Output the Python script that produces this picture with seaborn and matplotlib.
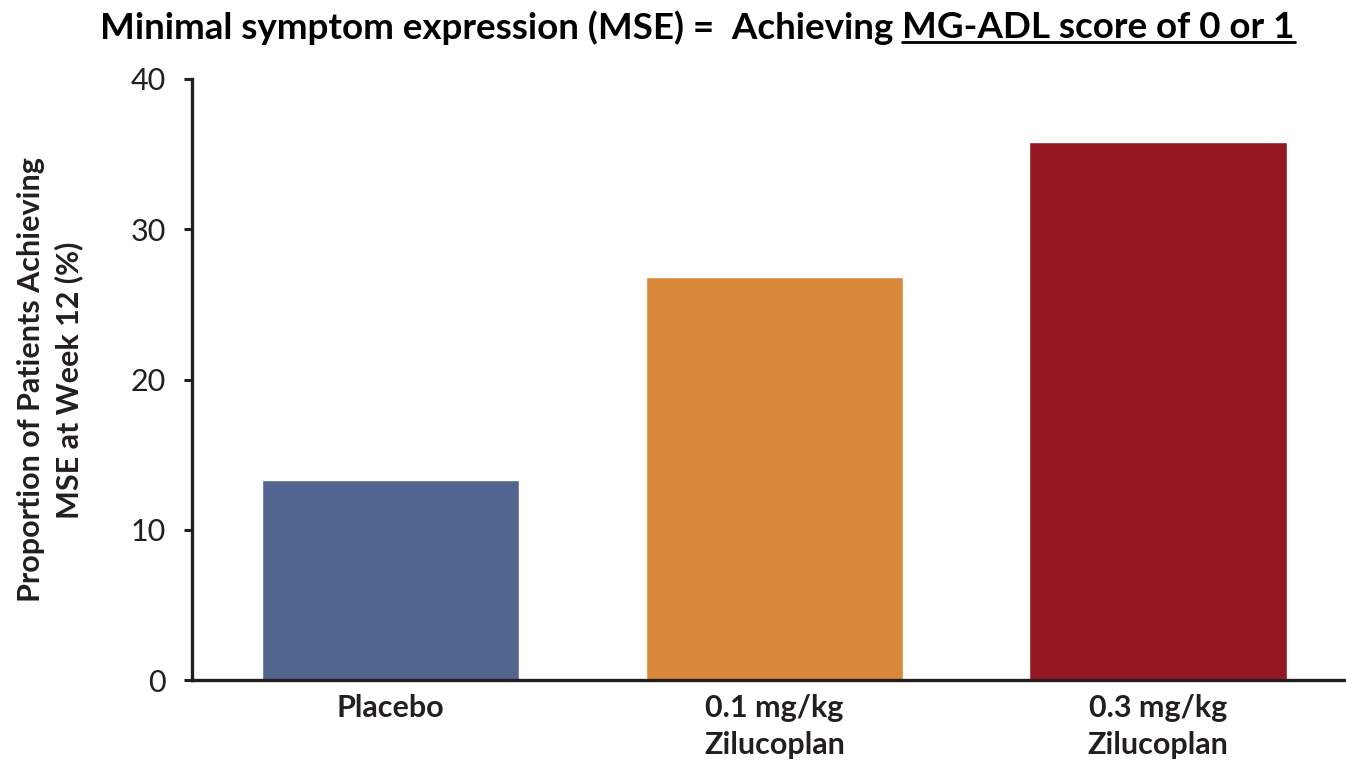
import matplotlib
matplotlib.use("Agg")
import matplotlib.pyplot as plt
import seaborn as sns
import pandas as pd
from matplotlib.lines import Line2D

categories = ["Placebo", "0.1 mg/kg\nZilucoplan", "0.3 mg/kg\nZilucoplan"]
values = [13.3, 26.8, 35.8]
colors = ["#52658F", "#D9873B", "#941822"]
yticks = [0, 10, 20, 30, 40]

title_prefix = "Minimal symptom expression (MSE) =  Achieving "
title_underlined = "MG-ADL score of 0 or 1"
ylabel = "Proportion of Patients Achieving\nMSE at Week 12 (%)"

sns.set_theme(style="white")
plt.rcParams["font.family"] = ["Lato", "DejaVu Sans"]
TXT = "#231f20"

df = pd.DataFrame({"group": categories, "value": values})

fig = plt.figure(figsize=(13.46, 7.63), dpi=100)
ax = fig.add_axes([192/1346, 1-680/763, 1-192/1346, (680-79)/763])

sns.barplot(data=df, x="group", y="value", hue="group", palette=colors,
            order=categories, hue_order=categories, width=0.67,
            saturation=1, legend=False, ax=ax)

ax.set_ylim(0, 40)
ax.set_xlim(-0.518, 2.49)
ax.set_yticks(yticks)
ax.set_yticklabels([str(t) for t in yticks], fontsize=22, color=TXT)
ax.set_xticks(range(len(categories)))
ax.set_xticklabels(categories, fontsize=22, fontweight="bold", color=TXT,
                   linespacing=1.38)
ax.tick_params(axis="y", length=6, width=2.2, color=TXT, pad=13, left=True)
ax.tick_params(axis="x", length=0, pad=10)
ax.set_xlabel("")
ax.set_ylabel("")

for s in ["top", "right"]:
    ax.spines[s].set_visible(False)
for s in ["left", "bottom"]:
    ax.spines[s].set_linewidth(2.4)
    ax.spines[s].set_color(TXT)

fig.text(50/1346, 1-380/763, ylabel, fontsize=22, fontweight="bold", color=TXT,
         rotation=90, ha="center", va="center", multialignment="center",
         linespacing=1.4)

# Title with underlined part
t1 = fig.text(100/1346, 1-28/763, title_prefix, fontsize=26.5, fontweight="bold",
              color="black", ha="left", va="center")
fig.canvas.draw()
r = fig.canvas.get_renderer()
bb1 = t1.get_window_extent(renderer=r)
t2 = fig.text(bb1.x1/fig.bbox.width, 1-28/763, title_underlined, fontsize=26.5,
              fontweight="bold", color="black", ha="left", va="center")
fig.canvas.draw()
bb2 = t2.get_window_extent(renderer=r)
uy = bb2.y0 + 3
fig.add_artist(Line2D([bb2.x0/fig.bbox.width, bb2.x1/fig.bbox.width],
                      [uy/fig.bbox.height, uy/fig.bbox.height],
                      transform=fig.transFigure, color="black", linewidth=2.0))

fig.savefig("out.png", dpi=100)
